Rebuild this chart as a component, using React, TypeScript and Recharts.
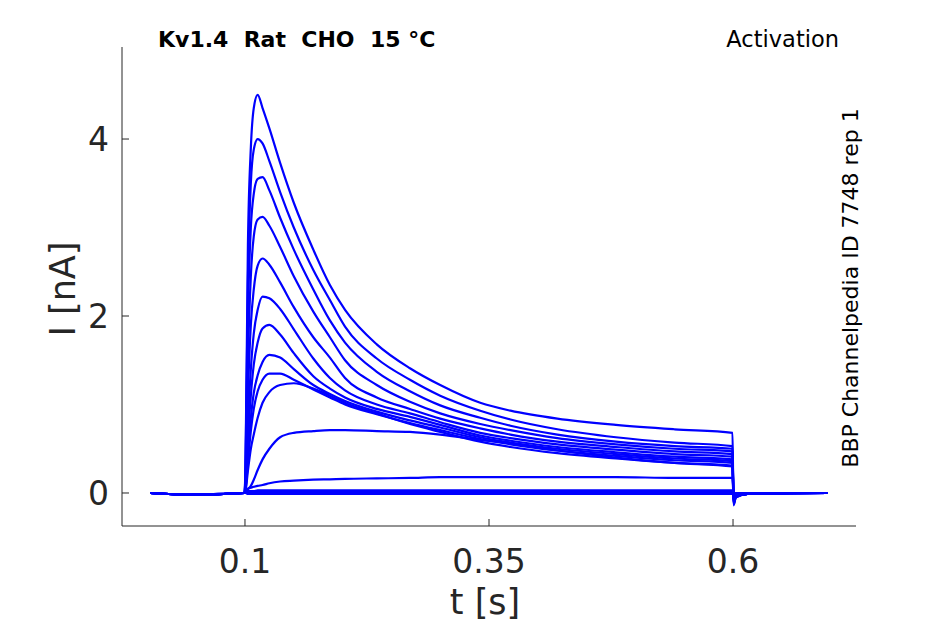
import { LineChart, Line, XAxis, YAxis } from 'recharts';

// sample times (s) shared by every sweep
const times = [
  0.003, 0.045, 0.0995, 0.1005, 0.103, 0.106, 0.109, 0.113, 0.118, 0.125,
  0.136, 0.15, 0.17, 0.187, 0.2025, 0.235, 0.269, 0.3, 0.341, 0.372,
  0.42, 0.48, 0.54, 0.5995, 0.6005, 0.603, 0.615, 0.697,
];

// current (nA) per sweep
const sweep1 = [0, -0.02, 0, 0.3, 2.8, 3.9, 4.35, 4.5, 4.35, 4.12, 3.73, 3.28, 2.75, 2.35, 2.07, 1.68, 1.41, 1.22, 1.02, 0.93, 0.84, 0.77, 0.72, 0.68, -0.14, -0.05, -0.01, 0];
const sweep2 = [0, -0.02, 0, 0.25, 2.4, 3.5, 3.88, 4.0, 3.95, 3.75, 3.4, 3.0, 2.52, 2.18, 1.88, 1.52, 1.28, 1.1, 0.93, 0.83, 0.72, 0.63, 0.57, 0.53, -0.13, -0.05, -0.01, 0];
const sweep3 = [0, -0.02, 0, 0.2, 2.0, 3.0, 3.38, 3.55, 3.57, 3.42, 3.11, 2.75, 2.3, 1.95, 1.7, 1.37, 1.15, 0.99, 0.85, 0.76, 0.66, 0.58, 0.53, 0.5, -0.12, -0.04, -0.01, 0];
const sweep4 = [0, -0.02, 0, 0.15, 1.5, 2.45, 2.9, 3.09, 3.12, 3.02, 2.78, 2.45, 2.05, 1.76, 1.5, 1.22, 1.03, 0.9, 0.78, 0.71, 0.62, 0.55, 0.5, 0.47, -0.11, -0.04, -0.01, 0];
const sweep5 = [0, -0.02, 0, 0.1, 1.1, 1.9, 2.3, 2.57, 2.65, 2.58, 2.38, 2.1, 1.76, 1.53, 1.3, 1.08, 0.95, 0.84, 0.73, 0.66, 0.58, 0.52, 0.47, 0.44, -0.1, -0.04, -0.01, 0];
const sweep6 = [0, -0.02, 0, 0.07, 0.8, 1.4, 1.8, 2.07, 2.22, 2.2, 2.08, 1.85, 1.52, 1.3, 1.16, 1.0, 0.9, 0.8, 0.68, 0.62, 0.55, 0.49, 0.44, 0.41, -0.09, -0.03, -0.01, 0];
const sweep7 = [0, -0.02, 0, 0.05, 0.6, 1.1, 1.45, 1.7, 1.86, 1.9, 1.79, 1.58, 1.32, 1.18, 1.08, 0.95, 0.86, 0.77, 0.65, 0.59, 0.52, 0.46, 0.41, 0.38, -0.08, -0.03, -0.01, 0];
const sweep8 = [0, -0.02, 0, 0.04, 0.45, 0.85, 1.13, 1.33, 1.48, 1.56, 1.53, 1.4, 1.22, 1.12, 1.04, 0.92, 0.82, 0.74, 0.63, 0.57, 0.5, 0.44, 0.39, 0.36, -0.08, -0.03, -0.01, 0];
const sweep9 = [0, -0.02, 0, 0.03, 0.35, 0.7, 0.95, 1.15, 1.28, 1.35, 1.35, 1.28, 1.17, 1.08, 1.0, 0.89, 0.79, 0.71, 0.61, 0.55, 0.48, 0.42, 0.37, 0.34, -0.07, -0.03, -0.01, 0];
const sweep10 = [0, -0.02, 0, 0.02, 0.25, 0.5, 0.66, 0.85, 1.02, 1.14, 1.22, 1.24, 1.18, 1.1, 1.02, 0.9, 0.78, 0.69, 0.58, 0.52, 0.45, 0.39, 0.34, 0.31, -0.07, -0.03, -0.01, 0];
const sweep11 = [0, -0.02, 0, 0.01, 0.04, 0.08, 0.15, 0.26, 0.38, 0.5, 0.63, 0.68, 0.7, 0.71, 0.71, 0.7, 0.69, 0.66, 0.6, 0.56, 0.48, 0.4, 0.34, 0.3, -0.06, -0.02, -0.01, 0];
const sweep12 = [0, -0.02, 0, 0.02, 0.05, 0.06, 0.07, 0.08, 0.09, 0.11, 0.13, 0.14, 0.15, 0.155, 0.16, 0.165, 0.17, 0.18, 0.18, 0.18, 0.18, 0.18, 0.17, 0.17, -0.04, -0.02, 0, 0];
const sweep13 = [0, -0.02, 0, 0.01, 0.02, 0.02, 0.02, 0.03, 0.03, 0.03, 0.03, 0.03, 0.03, 0.03, 0.03, 0.03, 0.03, 0.03, 0.03, 0.03, 0.03, 0.03, 0.03, 0.03, -0.02, -0.01, 0, 0];
const sweep14 = [0, -0.02, 0, 0, 0.01, 0.01, 0.01, 0.01, 0.01, 0.01, 0.01, 0.01, 0.01, 0.01, 0.01, 0.01, 0.01, 0.01, 0.01, 0.01, 0.01, 0.01, 0.01, 0.01, -0.01, 0, 0, 0];
const sweep15 = [0, -0.02, 0, 0, -0.01, -0.01, -0.01, -0.01, -0.01, -0.01, -0.01, -0.01, -0.01, -0.01, -0.01, -0.01, -0.01, -0.01, -0.01, -0.01, -0.01, -0.01, -0.01, -0.01, -0.01, 0, 0, 0];

const sweeps = [sweep1, sweep2, sweep3, sweep4, sweep5, sweep6, sweep7, sweep8, sweep9, sweep10, sweep11, sweep12, sweep13, sweep14, sweep15];

const xTicks = [0.1, 0.35, 0.6];
const yTicks = [0, 2, 4];

const data = times.map((t, i) => {
  const row: Record<string, number> = { t };
  sweeps.forEach((s, k) => { row[`s${k}`] = s[i]; });
  return row;
});

const AXIS = '#262626';
const FONT = '"DejaVu Sans", sans-serif';

const XTick = ({ x, y, payload }: any) => (
  <g>
    <line x1={x} x2={x} y1={y} y2={y - 7} stroke={AXIS} />
    <text x={x} y={y + 47} textAnchor="middle" fontSize={33} fill={AXIS} fontFamily={FONT}>
      {String(payload.value)}
    </text>
  </g>
);

const YTick = ({ x, y, payload }: any) => (
  <g>
    <line x1={x} x2={x + 7} y1={y} y2={y} stroke={AXIS} />
    <text x={x - 13} y={y} dy="0.36em" textAnchor="end" fontSize={33} fill={AXIS} fontFamily={FONT}>
      {String(payload.value)}
    </text>
  </g>
);

export default function App() {
  return (
    <div style={{ position: 'absolute', left: 0, top: 0, width: 945, height: 624, background: '#fff' }}>
      <LineChart
        width={945}
        height={624}
        data={data}
        margin={{ top: 47, right: 89, left: 62, bottom: 68 }}
      >
        <XAxis
          dataKey="t"
          type="number"
          domain={[-0.026, 0.726]}
          ticks={xTicks}
          allowDataOverflow
          height={30}
          tickSize={0}
          tickMargin={0}
          tickLine={false}
          tick={<XTick />}
          stroke={AXIS}
        />
        <YAxis
          type="number"
          domain={[-0.373, 5.04]}
          ticks={yTicks}
          allowDataOverflow
          width={60}
          tickSize={0}
          tickMargin={0}
          tickLine={false}
          tick={<YTick />}
          stroke={AXIS}
        />
        {sweeps.map((_, k) => (
          <Line
            key={k}
            dataKey={`s${k}`}
            type="monotone"
            stroke="#0000ff"
            strokeWidth={2.2}
            dot={false}
            isAnimationActive={false}
          />
        ))}
      </LineChart>
      <svg width={945} height={624} style={{ position: 'absolute', left: 0, top: 0, pointerEvents: 'none' }} fontFamily={FONT}>
        <text x={158} y={47} fontSize={22} fontWeight="bold" fill="#000" style={{ whiteSpace: 'pre' }}>
          {'Kv1.4  Rat  CHO  15 °C'}
        </text>
        <text x={839} y={47} fontSize={22.5} textAnchor="end" fill="#000">Activation</text>
        <text x={858} y={288} fontSize={22} textAnchor="middle" fill="#000" transform="rotate(-90 858 288)">
          BBP Channelpedia ID 7748 rep 1
        </text>
        <text x={75} y={289} fontSize={35} textAnchor="middle" fill={AXIS} transform="rotate(-90 75 289)">
          I [nA]
        </text>
        <text x={485} y={614} fontSize={35} textAnchor="middle" fill={AXIS}>t [s]</text>
      </svg>
    </div>
  );
}
